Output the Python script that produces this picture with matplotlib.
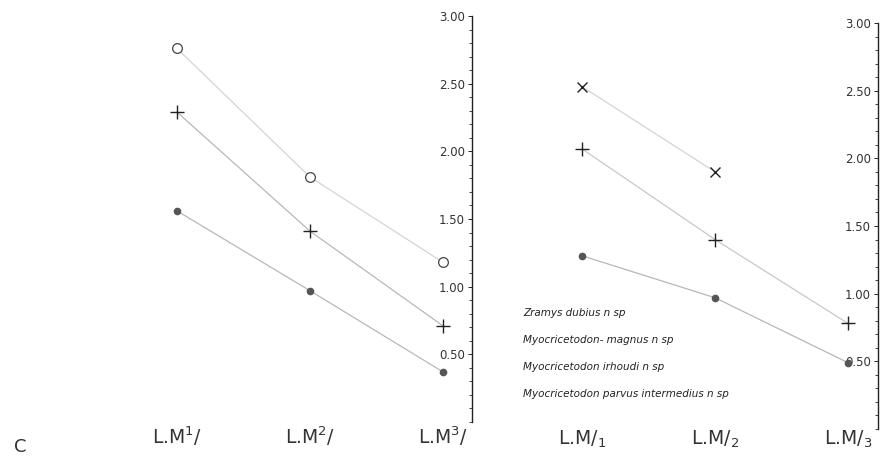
import numpy as np
import matplotlib.pyplot as plt
from matplotlib.ticker import MultipleLocator, FormatStrFormatter

# data (length, mm)
upper_labels = [r'L.M$^{1}$/', r'L.M$^{2}$/', r'L.M$^{3}$/']
lower_labels = [r'L.M/$_{1}$', r'L.M/$_{2}$', r'L.M/$_{3}$']

upper_circle = [2.76, 1.81, 1.18]
upper_plus = [2.29, 1.41, 0.71]
upper_dot = [1.56, 0.97, 0.37]

lower_cross = [2.53, 1.90]
lower_plus = [2.07, 1.40, 0.78]
lower_dot = [1.28, 0.97, 0.49]

species = ['Zramys dubius n sp',
           'Myocricetodon- magnus n sp',
           'Myocricetodon irhoudi n sp',
           'Myocricetodon parvus intermedius n sp']

W, H = 883, 459
fig = plt.figure(figsize=(W / 100, H / 100), dpi=100)
txt = '#333333'
lc = '#b8b8b8'
mk = '#444444'


def make_axes(x_first, x_spine, y_top, y_bottom, xpad):
    step = 133.0
    left_px = x_first - 0.5 * step
    right_px = x_spine + 2
    ax = fig.add_axes([left_px / W, 1 - y_bottom / H,
                       (right_px - left_px) / W, (y_bottom - y_top) / H])
    ax.set_xlim(-0.5, (right_px - x_first) / step)
    ax.set_ylim(0, 3.0)
    for s in ['top', 'right', 'bottom']:
        ax.spines[s].set_visible(False)
    ax.spines['left'].set_position(('data', (x_spine - x_first) / step))
    ax.spines['left'].set_color('#222222')
    ax.spines['left'].set_linewidth(1.0)
    ax.yaxis.set_major_locator(MultipleLocator(0.5))
    ax.yaxis.set_minor_locator(MultipleLocator(0.1))
    ax.yaxis.set_major_formatter(FormatStrFormatter('%.2f'))
    ax.tick_params(axis='y', which='major', length=3, width=0.6,
                   labelsize=8.5, labelcolor=txt, pad=2)
    ax.tick_params(axis='y', which='minor', length=2, width=0.5)
    ax.set_yticks([0.5, 1.0, 1.5, 2.0, 2.5, 3.0])
    ax.tick_params(axis='x', length=0, pad=xpad, labelsize=13.5, labelcolor=txt)
    ax.patch.set_alpha(0)
    return ax


# upper molars
ax1 = make_axes(177, 472, 16, 422, 1.5)
x = np.arange(3)
ax1.plot(x, upper_circle, color='#d4d4d4', lw=0.9, zorder=1)
ax1.plot(x, upper_plus, color=lc, lw=0.9, zorder=1)
ax1.plot(x, upper_dot, color=lc, lw=0.9, zorder=1)
ax1.plot(x, upper_circle, 'o', ms=7, mfc='white', mec=mk, mew=0.9, ls='none')
ax1.plot(x, upper_plus, '+', ms=10, mec='#222222', mew=1.0, ls='none')
ax1.plot(x, upper_dot, 'o', ms=4.5, mfc='#555555', mec='#555555', ls='none')
ax1.set_xticks(x)
ax1.set_xticklabels(upper_labels)

# lower molars
ax2 = make_axes(582, 878, 23, 429, 0)
ax2.plot(x[:2], lower_cross, color='#d4d4d4', lw=0.9, zorder=1)
ax2.plot(x, lower_plus, color='#c8c8c8', lw=0.9, zorder=1)
ax2.plot(x, lower_dot, color=lc, lw=0.9, zorder=1)
ax2.plot(x[:2], lower_cross, 'x', ms=7, mec='#222222', mew=1.0, ls='none')
ax2.plot(x, lower_plus, '+', ms=10, mec='#222222', mew=1.0, ls='none')
ax2.plot(x, lower_dot, 'o', ms=4.5, mfc='#555555', mec='#555555', ls='none')
ax2.set_xticks(x)
ax2.set_xticklabels(lower_labels)

# species list
for i, name in enumerate(species):
    fig.text(523 / W, 1 - (313 + i * 27) / H, name, fontsize=7.5,
             color='#222222', va='center', ha='left', style='italic')

fig.text(14 / W, 1 - 447 / H, 'C', fontsize=13, color=txt, va='center')

fig.savefig('out.png', dpi=100)
